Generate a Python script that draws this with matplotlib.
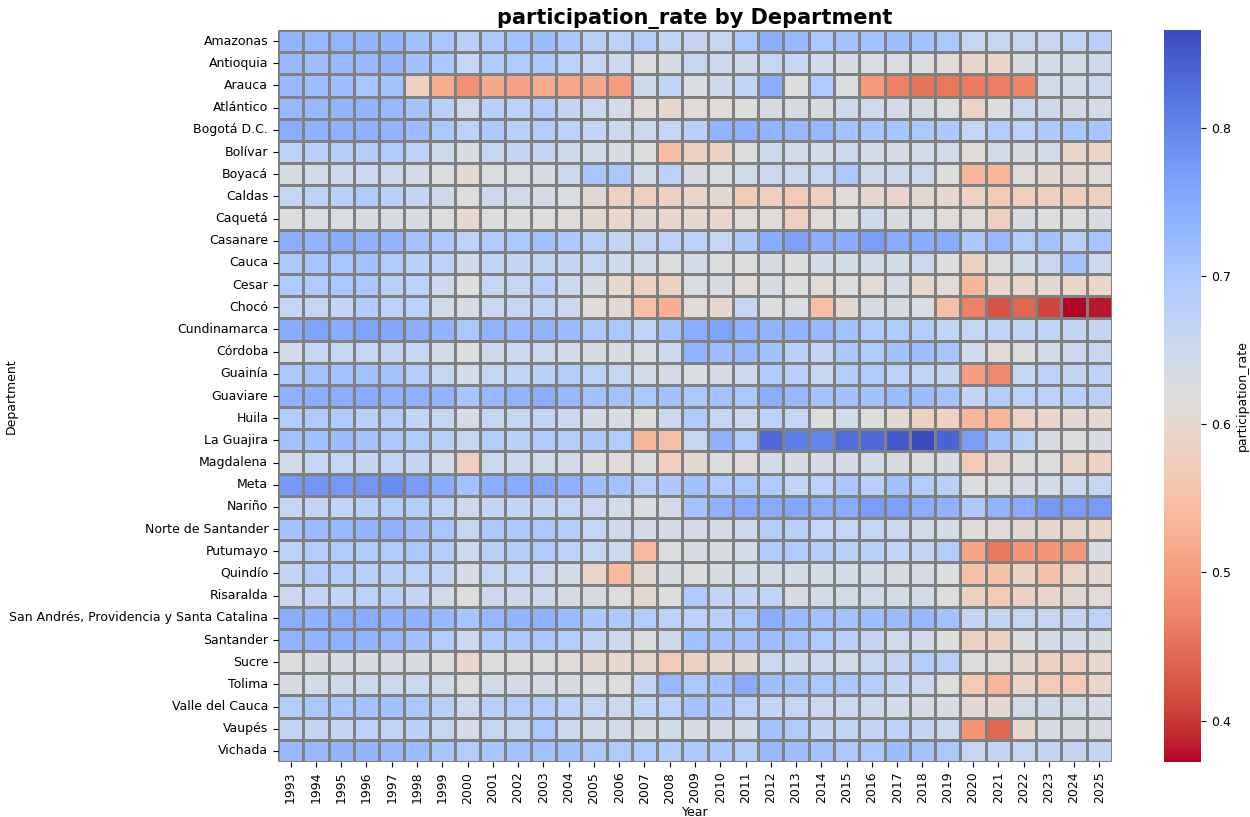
import numpy as np
import pandas as pd
import matplotlib
matplotlib.use("Agg")
import matplotlib.pyplot as plt
import seaborn as sns

years = list(range(1993, 2026))
departments = ["Amazonas", "Antioquia", "Arauca", "Atlántico", "Bogotá D.C.", "Bolívar", "Boyacá",
               "Caldas", "Caquetá", "Casanare", "Cauca", "Cesar", "Chocó", "Cundinamarca", "Córdoba",
               "Guainía", "Guaviare", "Huila", "La Guajira", "Magdalena", "Meta", "Nariño",
               "Norte de Santander", "Putumayo", "Quindío", "Risaralda",
               "San Andrés, Providencia y Santa Catalina", "Santander", "Sucre", "Tolima",
               "Valle del Cauca", "Vaupés", "Vichada"]

# participation rate, one row per department, 1993..2025
amazonas = [0.733, 0.728, 0.732, 0.733, 0.733, 0.713, 0.703, 0.68, 0.698, 0.713, 0.722, 0.703, 0.68, 0.676, 0.688, 0.668, 0.663,
            0.658, 0.70, 0.745, 0.728, 0.70, 0.71, 0.713, 0.718, 0.713, 0.70, 0.66, 0.66, 0.66, 0.66, 0.668, 0.68]
antioquia = [0.728, 0.72, 0.728, 0.728, 0.735, 0.713, 0.698, 0.66, 0.693, 0.693, 0.695, 0.676, 0.66, 0.65, 0.62, 0.63, 0.66,
             0.65, 0.645, 0.66, 0.66, 0.64, 0.63, 0.625, 0.625, 0.62, 0.612, 0.595, 0.595, 0.63, 0.64, 0.64, 0.65]
arauca = [0.728, 0.72, 0.72, 0.705, 0.71, 0.585, 0.52, 0.485, 0.515, 0.508, 0.52, 0.512, 0.515, 0.50, 0.645, 0.668, 0.625,
          0.645, 0.668, 0.745, 0.62, 0.693, 0.62, 0.496, 0.468, 0.455, 0.457, 0.462, 0.465, 0.472, 0.642, 0.64, 0.65]
atlantico = [0.728, 0.728, 0.733, 0.733, 0.728, 0.71, 0.68, 0.642, 0.68, 0.676, 0.688, 0.663, 0.65, 0.635, 0.61, 0.598, 0.61,
             0.61, 0.62, 0.63, 0.63, 0.63, 0.645, 0.642, 0.635, 0.63, 0.62, 0.59, 0.62, 0.65, 0.645, 0.635, 0.635]
bogota = [0.745, 0.74, 0.74, 0.74, 0.735, 0.722, 0.70, 0.676, 0.698, 0.68, 0.688, 0.676, 0.663, 0.65, 0.65, 0.66, 0.68,
          0.735, 0.74, 0.735, 0.728, 0.728, 0.71, 0.705, 0.705, 0.70, 0.698, 0.66, 0.688, 0.676, 0.698, 0.70, 0.705]
bolivar = [0.676, 0.68, 0.688, 0.688, 0.693, 0.676, 0.645, 0.63, 0.66, 0.663, 0.663, 0.645, 0.64, 0.63, 0.62, 0.545, 0.585,
           0.585, 0.62, 0.65, 0.642, 0.64, 0.65, 0.64, 0.635, 0.642, 0.642, 0.612, 0.642, 0.63, 0.642, 0.592, 0.588]
boyaca = [0.63, 0.642, 0.645, 0.65, 0.645, 0.635, 0.62, 0.605, 0.625, 0.625, 0.63, 0.65, 0.705, 0.70, 0.642, 0.676, 0.63,
          0.625, 0.642, 0.65, 0.65, 0.66, 0.695, 0.645, 0.645, 0.65, 0.62, 0.535, 0.535, 0.612, 0.605, 0.605, 0.612]
caldas = [0.66, 0.676, 0.68, 0.693, 0.68, 0.663, 0.645, 0.62, 0.65, 0.642, 0.635, 0.625, 0.605, 0.585, 0.58, 0.585, 0.592,
          0.605, 0.57, 0.58, 0.57, 0.58, 0.61, 0.598, 0.595, 0.605, 0.598, 0.588, 0.57, 0.58, 0.58, 0.578, 0.58]
caqueta = [0.62, 0.625, 0.625, 0.63, 0.63, 0.63, 0.62, 0.598, 0.62, 0.62, 0.62, 0.612, 0.605, 0.592, 0.605, 0.595, 0.598,
           0.595, 0.61, 0.61, 0.58, 0.61, 0.62, 0.645, 0.63, 0.625, 0.612, 0.612, 0.58, 0.63, 0.62, 0.62, 0.63]
casanare = [0.745, 0.735, 0.75, 0.74, 0.735, 0.71, 0.698, 0.676, 0.693, 0.70, 0.713, 0.698, 0.68, 0.663, 0.663, 0.676, 0.676,
            0.66, 0.695, 0.75, 0.765, 0.745, 0.75, 0.768, 0.75, 0.75, 0.75, 0.695, 0.728, 0.688, 0.713, 0.68, 0.705]
cauca = [0.70, 0.705, 0.705, 0.713, 0.693, 0.68, 0.676, 0.645, 0.668, 0.663, 0.668, 0.663, 0.66, 0.645, 0.635, 0.62, 0.635,
         0.62, 0.62, 0.63, 0.62, 0.635, 0.64, 0.64, 0.64, 0.65, 0.62, 0.585, 0.62, 0.642, 0.66, 0.71, 0.65]
cesar = [0.693, 0.693, 0.70, 0.70, 0.68, 0.676, 0.645, 0.62, 0.66, 0.66, 0.68, 0.65, 0.63, 0.598, 0.585, 0.585, 0.625,
         0.63, 0.61, 0.63, 0.62, 0.61, 0.62, 0.61, 0.635, 0.598, 0.61, 0.535, 0.595, 0.595, 0.605, 0.592, 0.595]
choco = [0.66, 0.66, 0.663, 0.688, 0.676, 0.676, 0.64, 0.63, 0.65, 0.66, 0.668, 0.65, 0.612, 0.605, 0.55, 0.525, 0.61,
         0.598, 0.66, 0.62, 0.625, 0.548, 0.605, 0.63, 0.63, 0.625, 0.55, 0.47, 0.422, 0.44, 0.41, 0.372, 0.38]
cundinamarca = [0.75, 0.76, 0.75, 0.76, 0.755, 0.745, 0.735, 0.70, 0.735, 0.728, 0.735, 0.722, 0.70, 0.70, 0.668, 0.71, 0.745,
                0.76, 0.74, 0.735, 0.735, 0.728, 0.713, 0.693, 0.693, 0.688, 0.668, 0.66, 0.668, 0.668, 0.668, 0.663, 0.663]
cordoba = [0.642, 0.66, 0.66, 0.66, 0.663, 0.66, 0.64, 0.62, 0.645, 0.65, 0.65, 0.64, 0.63, 0.63, 0.625, 0.65, 0.735,
           0.72, 0.728, 0.713, 0.68, 0.663, 0.70, 0.693, 0.713, 0.718, 0.705, 0.642, 0.61, 0.62, 0.64, 0.65, 0.66]
guainia = [0.70, 0.71, 0.713, 0.713, 0.71, 0.688, 0.66, 0.64, 0.66, 0.668, 0.68, 0.688, 0.676, 0.66, 0.642, 0.635, 0.625,
           0.635, 0.65, 0.693, 0.68, 0.66, 0.688, 0.693, 0.676, 0.668, 0.663, 0.50, 0.478, 0.66, 0.676, 0.663, 0.676]
guaviare = [0.74, 0.745, 0.745, 0.75, 0.74, 0.74, 0.735, 0.705, 0.728, 0.735, 0.745, 0.728, 0.713, 0.713, 0.70, 0.713, 0.70,
            0.713, 0.70, 0.745, 0.728, 0.71, 0.713, 0.713, 0.722, 0.722, 0.71, 0.663, 0.688, 0.676, 0.676, 0.68, 0.68]
huila = [0.688, 0.693, 0.693, 0.68, 0.688, 0.668, 0.66, 0.635, 0.66, 0.66, 0.663, 0.65, 0.635, 0.63, 0.62, 0.65, 0.693,
         0.66, 0.65, 0.676, 0.66, 0.62, 0.64, 0.62, 0.605, 0.585, 0.583, 0.535, 0.533, 0.59, 0.595, 0.605, 0.605]
la_guajira = [0.713, 0.713, 0.722, 0.71, 0.70, 0.693, 0.68, 0.66, 0.688, 0.68, 0.693, 0.688, 0.695, 0.688, 0.533, 0.55, 0.66,
              0.74, 0.693, 0.835, 0.81, 0.80, 0.828, 0.835, 0.85, 0.866, 0.84, 0.768, 0.71, 0.676, 0.63, 0.62, 0.63]
magdalena = [0.64, 0.66, 0.66, 0.663, 0.668, 0.663, 0.642, 0.58, 0.65, 0.645, 0.642, 0.64, 0.62, 0.612, 0.62, 0.58, 0.605,
             0.62, 0.612, 0.64, 0.63, 0.635, 0.635, 0.64, 0.63, 0.62, 0.63, 0.567, 0.598, 0.62, 0.62, 0.592, 0.583]
meta = [0.775, 0.778, 0.775, 0.778, 0.79, 0.77, 0.75, 0.71, 0.745, 0.75, 0.755, 0.74, 0.718, 0.71, 0.68, 0.695, 0.713,
        0.693, 0.70, 0.693, 0.668, 0.676, 0.70, 0.68, 0.713, 0.688, 0.68, 0.62, 0.625, 0.635, 0.64, 0.65, 0.66]
narino = [0.66, 0.663, 0.668, 0.68, 0.688, 0.688, 0.668, 0.645, 0.663, 0.663, 0.663, 0.66, 0.65, 0.64, 0.625, 0.635, 0.71,
          0.74, 0.75, 0.75, 0.755, 0.745, 0.75, 0.768, 0.765, 0.745, 0.74, 0.698, 0.735, 0.75, 0.775, 0.768, 0.77]
norte_santander = [0.71, 0.722, 0.728, 0.735, 0.74, 0.718, 0.705, 0.66, 0.70, 0.698, 0.70, 0.688, 0.66, 0.645, 0.635, 0.635, 0.635,
                   0.635, 0.65, 0.688, 0.68, 0.66, 0.66, 0.66, 0.65, 0.64, 0.635, 0.612, 0.61, 0.605, 0.598, 0.598, 0.592]
putumayo = [0.676, 0.688, 0.693, 0.693, 0.693, 0.70, 0.688, 0.65, 0.68, 0.688, 0.693, 0.676, 0.66, 0.65, 0.54, 0.62, 0.63,
            0.63, 0.64, 0.693, 0.693, 0.688, 0.68, 0.68, 0.668, 0.663, 0.688, 0.51, 0.457, 0.49, 0.49, 0.492, 0.63]
quindio = [0.663, 0.688, 0.688, 0.68, 0.68, 0.676, 0.663, 0.635, 0.66, 0.66, 0.65, 0.64, 0.595, 0.54, 0.605, 0.63, 0.62,
           0.63, 0.64, 0.64, 0.64, 0.64, 0.64, 0.64, 0.63, 0.63, 0.62, 0.553, 0.553, 0.583, 0.553, 0.592, 0.605]
risaralda = [0.65, 0.663, 0.663, 0.676, 0.68, 0.663, 0.642, 0.62, 0.65, 0.645, 0.645, 0.635, 0.63, 0.62, 0.605, 0.62, 0.693,
             0.663, 0.663, 0.668, 0.63, 0.64, 0.642, 0.642, 0.64, 0.64, 0.62, 0.583, 0.567, 0.583, 0.595, 0.605, 0.61]
san_andres = [0.745, 0.74, 0.745, 0.75, 0.74, 0.74, 0.728, 0.705, 0.728, 0.735, 0.74, 0.722, 0.698, 0.693, 0.688, 0.676, 0.676,
              0.68, 0.70, 0.745, 0.722, 0.71, 0.71, 0.718, 0.722, 0.728, 0.71, 0.663, 0.663, 0.66, 0.66, 0.663, 0.676]
santander = [0.735, 0.735, 0.74, 0.735, 0.728, 0.713, 0.688, 0.65, 0.693, 0.695, 0.70, 0.688, 0.663, 0.65, 0.62, 0.645, 0.713,
             0.71, 0.71, 0.718, 0.71, 0.693, 0.68, 0.663, 0.642, 0.64, 0.62, 0.585, 0.583, 0.62, 0.635, 0.635, 0.63]
sucre = [0.62, 0.63, 0.63, 0.63, 0.63, 0.63, 0.62, 0.595, 0.62, 0.62, 0.62, 0.612, 0.605, 0.598, 0.598, 0.567, 0.583,
         0.598, 0.605, 0.65, 0.645, 0.65, 0.64, 0.66, 0.663, 0.688, 0.68, 0.62, 0.612, 0.598, 0.583, 0.583, 0.598]
tolima = [0.63, 0.64, 0.645, 0.65, 0.65, 0.65, 0.642, 0.62, 0.64, 0.635, 0.635, 0.63, 0.625, 0.62, 0.663, 0.728, 0.70,
          0.713, 0.75, 0.718, 0.71, 0.70, 0.70, 0.688, 0.663, 0.65, 0.62, 0.567, 0.533, 0.592, 0.567, 0.567, 0.592]
valle = [0.688, 0.70, 0.70, 0.71, 0.713, 0.70, 0.68, 0.645, 0.68, 0.688, 0.688, 0.676, 0.66, 0.65, 0.668, 0.676, 0.71,
         0.698, 0.676, 0.663, 0.66, 0.65, 0.65, 0.645, 0.64, 0.635, 0.63, 0.605, 0.605, 0.642, 0.645, 0.642, 0.635]
vaupes = [0.663, 0.663, 0.663, 0.676, 0.668, 0.68, 0.66, 0.635, 0.66, 0.66, 0.70, 0.65, 0.642, 0.642, 0.63, 0.64, 0.63,
          0.635, 0.64, 0.71, 0.693, 0.663, 0.668, 0.663, 0.676, 0.663, 0.65, 0.488, 0.44, 0.598, 0.63, 0.63, 0.63]
vichada = [0.728, 0.728, 0.733, 0.733, 0.728, 0.722, 0.705, 0.688, 0.705, 0.71, 0.713, 0.713, 0.70, 0.693, 0.693, 0.688, 0.698,
           0.70, 0.688, 0.728, 0.718, 0.71, 0.70, 0.70, 0.722, 0.71, 0.70, 0.66, 0.663, 0.66, 0.663, 0.663, 0.663]

rows = [amazonas, antioquia, arauca, atlantico, bogota, bolivar, boyaca, caldas, caqueta, casanare, cauca,
        cesar, choco, cundinamarca, cordoba, guainia, guaviare, huila, la_guajira, magdalena, meta, narino,
        norte_santander, putumayo, quindio, risaralda, san_andres, santander, sucre, tolima, valle, vaupes, vichada]

df = pd.DataFrame(rows, index=departments, columns=years)

fs = 9
fig = plt.figure(figsize=(12.5, 8.17), dpi=100)
ax = fig.add_axes([278 / 1250, 1 - 762 / 817, 834 / 1250, 732 / 817])
cax = fig.add_axes([1164 / 1250, 1 - 762 / 817, 37 / 1250, 732 / 817])

sns.heatmap(df, ax=ax, cbar_ax=cax, cmap="coolwarm_r", linewidths=0.8, linecolor="gray",
            xticklabels=True, yticklabels=True)

ax.set_title("participation_rate by Department", fontsize=15, fontweight="bold", pad=4)
ax.set_xlabel("Year", fontsize=fs, labelpad=2)
ax.set_ylabel("Department", fontsize=fs)
ax.yaxis.set_label_coords(-0.312, 0.5)
ax.tick_params(axis="x", rotation=90, labelsize=fs)
ax.tick_params(axis="y", rotation=0, labelsize=fs)
cax.tick_params(labelsize=fs)
cax.set_ylabel("participation_rate", fontsize=fs)

fig.savefig("out.png", dpi=100)
